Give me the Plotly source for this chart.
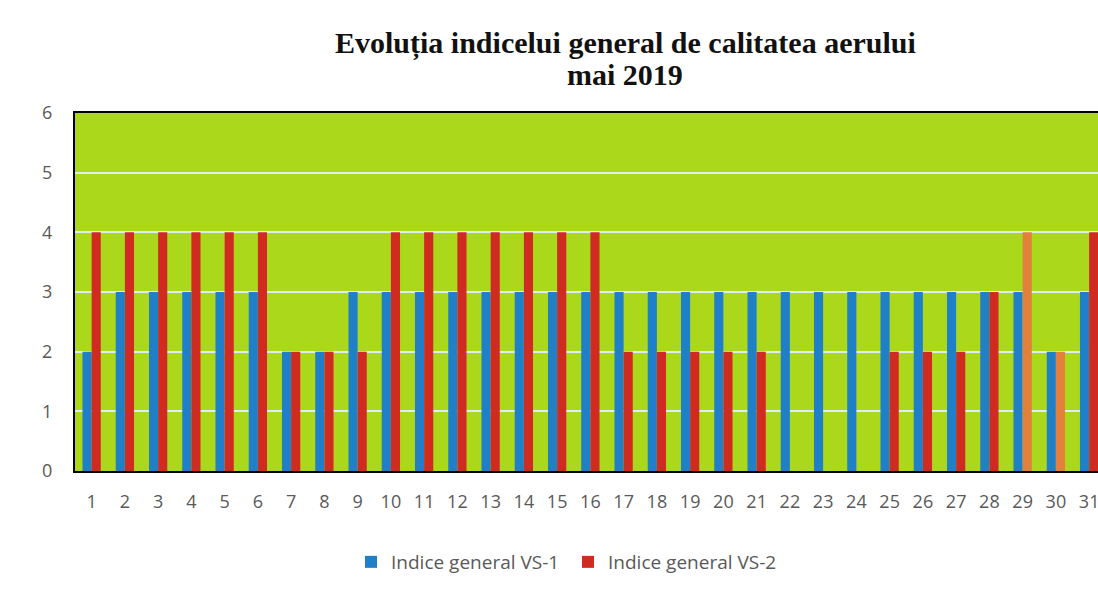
import plotly.graph_objects as go

days = list(range(1, 32))
vs1 = [2, 3, 3, 3, 3, 3, 2, 2, 3, 3, 3, 3, 3, 3, 3, 3, 3, 3, 3, 3, 3, 3, 3, 3, 3, 3, 3, 3, 3, 2, 3]
vs2 = [4, 4, 4, 4, 4, 4, 2, 2, 2, 4, 4, 4, 4, 4, 4, 4, 2, 2, 2, 2, 2, 0, 0, 0, 2, 2, 2, 3, 4, 2, 4]
series_names = ["Indice general VS-1", "Indice general VS-2"]
title_lines = ["Evoluția indicelui general de calitatea aerului", "mai 2019"]

blue = "#1f80c8"
red = "#d02b20"
orange = "#e2803c"
vs2_colors = [orange if d in (29, 30) else red for d in days]

fig = go.Figure()
fig.add_trace(go.Bar(x=days, y=vs1, name=series_names[0], marker=dict(color=blue, line=dict(width=0))))
fig.add_trace(go.Bar(x=days, y=vs2, name=series_names[1], marker=dict(color=vs2_colors, line=dict(width=0))))

L, T, B = 75, 113, 119
PW = 1098 - L
PH = 590 - T - B

title_font = dict(family="Liberation Serif, Times New Roman, serif", size=30, color="#111111")
fig.update_layout(
    width=1098, height=590,
    paper_bgcolor="white",
    plot_bgcolor="#acd81c",
    barmode="group",
    bargap=0.45,
    bargroupgap=0,
    margin=dict(l=L, r=0, t=T, b=B, autoexpand=False),
    font=dict(family="Open Sans, Liberation Sans, sans-serif", color="#595959"),
    legend=dict(
        orientation="h", x=(393 - 42 - L) / PW, xanchor="left",
        y=(471 - 562) / PH, yanchor="middle",
        font=dict(size=19, color="#595959"),
        entrywidth=172, entrywidthmode="pixels",
    ),
    annotations=[
        dict(text="<b>" + title_lines[0] + "</b>", xref="paper", yref="paper",
             x=(625 - L) / PW, y=1 + (T - 43) / PH, xanchor="center", yanchor="middle",
             showarrow=False, font=title_font),
        dict(text="<b>" + title_lines[1] + "</b>", xref="paper", yref="paper",
             x=(625 - L) / PW, y=1 + (T - 75) / PH, xanchor="center", yanchor="middle",
             showarrow=False, font=title_font),
    ],
)
fig.update_xaxes(
    range=[0.5, 0.5 + PW / 33.25], tickmode="array", tickvals=days, ticktext=[str(d) for d in days],
    showgrid=False, showline=True, linecolor="black", linewidth=2, mirror=True,
    ticks="", ticklabelstandoff=13, tickfont=dict(size=18, color="#595959"),
    ticklabeloverflow="allow", automargin=False,
)
fig.update_yaxes(
    range=[0, 6], tickvals=[0, 1, 2, 3, 4, 5, 6],
    showgrid=True, gridcolor="#dceefa", gridwidth=1.5,
    showline=True, linecolor="black", linewidth=2, mirror=True,
    zeroline=False, ticks="", ticklabelstandoff=17, tickfont=dict(size=18, color="#595959"),
    automargin=False,
)

fig.write_html("out.html", config={"displayModeBar": False},
               post_script="document.body.style.margin='0';document.body.style.overflow='hidden';")
